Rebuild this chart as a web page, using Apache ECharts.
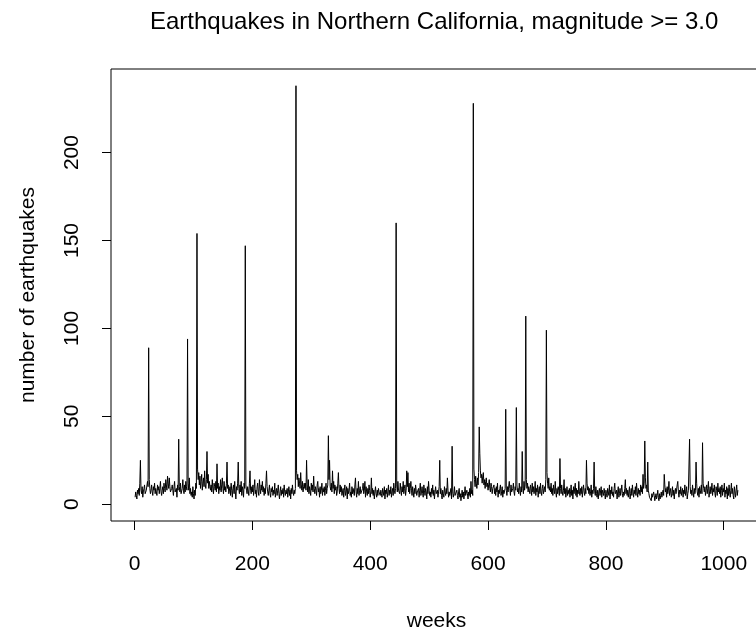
<!DOCTYPE html>
<html>
<head>
<meta charset="utf-8">
<script src="https://cdn.jsdelivr.net/npm/echarts@6/dist/echarts.min.js"></script>
<style>
  html, body { margin: 0; padding: 0; background: #fff; }
  #chart { width: 756px; height: 630px; }
</style>
</head>
<body>
<div id="chart"></div>
<script>
// weekly counts (weeks 1..1024)
var counts = [
  4,7,5,3,8,6,9,5,12,25,8,6,10,4,7,9,11,6,5,8,7,13,10,89,14,9,6,8,11,7,5,10,
  8,12,6,9,7,5,11,8,10,6,9,13,7,5,8,10,6,12,9,7,14,11,8,16,12,9,15,10,7,6,9,11,
  8,5,10,13,7,6,9,4,11,8,37,10,7,12,6,5,9,14,8,6,11,7,13,10,8,94,12,8,15,6,9,5,
  7,4,10,6,3,8,5,12,9,154,20,14,18,11,16,9,13,17,8,12,15,10,19,11,9,14,30,12,17,9,13,10,
  8,11,7,14,9,6,12,10,8,13,7,23,9,12,6,10,8,14,7,11,15,9,6,13,8,10,7,12,24,9,11,6,
  7,10,5,12,8,4,9,11,6,13,7,3,10,8,12,24,9,6,11,7,13,5,10,8,4,12,9,147,11,8,6,10,
  9,5,12,19,8,6,10,7,11,5,9,14,6,8,4,10,12,7,5,14,9,6,11,8,13,7,10,5,9,6,12,19,
  10,7,5,8,11,6,4,9,7,10,5,8,6,12,4,7,9,5,8,11,6,3,7,10,5,8,6,9,4,11,7,5,
  8,6,9,4,7,10,5,8,3,9,6,11,7,5,8,6,9,238,19,14,17,10,15,12,9,18,11,8,13,7,10,12,
  9,12,8,25,11,7,14,6,10,9,5,12,8,11,7,16,9,6,10,8,5,11,13,7,9,4,10,6,8,12,5,9,
  7,10,5,8,12,6,9,11,39,14,25,10,8,12,7,19,9,13,6,11,8,10,5,7,12,18,9,6,11,7,10,5,
  6,9,4,8,11,5,7,10,3,9,6,8,12,5,7,4,10,6,9,8,5,11,15,7,4,9,6,13,5,8,10,6,
  7,5,9,12,6,8,13,4,10,7,5,9,6,11,8,4,7,15,6,9,5,8,3,7,10,6,4,8,5,9,7,6,
  5,8,6,4,9,7,5,10,3,8,6,9,4,7,11,5,8,6,10,4,7,9,5,12,8,6,9,160,11,7,13,8,
  9,6,12,8,5,10,7,13,6,9,11,5,8,19,10,18,7,12,6,9,13,8,5,10,7,4,9,6,11,8,5,7,
  6,9,4,8,12,5,7,10,6,4,11,8,5,9,7,3,10,6,13,8,5,7,4,9,6,11,5,8,3,7,10,6,
  5,8,4,7,10,25,6,9,5,3,8,6,4,10,7,5,9,6,15,8,4,7,5,6,9,3,33,7,4,6,10,5,
  6,4,8,5,3,7,9,4,6,2,5,8,4,7,3,6,10,5,4,8,6,3,7,5,9,4,13,6,8,5,228,20,
  14,10,16,12,9,15,11,18,44,29,19,15,17,12,16,18,11,14,9,13,15,10,12,8,11,14,9,7,12,10,6,9,
  8,11,6,9,5,10,7,12,4,8,6,9,11,5,7,10,4,8,6,7,9,54,8,5,10,7,6,13,9,5,11,7,
  6,9,12,7,5,10,8,55,11,7,9,6,12,8,5,10,7,30,9,6,13,8,11,107,14,9,12,7,10,8,6,11,
  9,5,12,7,10,6,8,13,5,9,7,11,4,8,10,6,12,7,5,9,11,6,8,10,7,14,99,18,12,9,15,8,
  10,7,12,6,9,5,11,8,6,13,7,4,9,6,10,8,5,26,9,6,11,7,5,8,14,6,9,4,7,10,5,8,
  6,9,4,7,11,5,8,3,10,6,7,12,5,9,4,8,6,13,7,5,9,6,10,4,8,11,7,5,9,6,25,12,
  8,10,6,9,5,7,11,4,8,6,9,24,7,5,10,6,4,8,3,7,9,5,6,10,4,8,7,5,9,6,3,8,
  6,4,9,7,5,11,3,8,6,10,5,7,4,9,12,6,5,8,3,7,10,4,6,9,5,8,11,6,4,7,5,9,
  14,6,9,5,8,4,7,10,3,6,9,5,11,7,4,8,6,10,5,12,7,4,9,6,8,5,11,7,10,6,17,9,
  12,36,15,9,11,7,24,8,6,4,3,5,2,6,4,3,7,5,2,4,6,3,5,8,4,2,6,3,5,7,4,6,
  8,5,17,11,7,9,4,10,6,8,13,5,7,9,4,6,10,5,8,3,7,9,6,5,11,13,7,4,8,6,10,5,
  7,9,4,8,6,11,5,7,10,3,6,8,9,37,10,6,8,5,11,7,4,9,6,8,24,12,7,5,9,4,10,6,
  8,11,6,35,12,9,7,10,5,8,11,6,9,13,4,7,10,6,8,12,5,9,7,11,6,4,10,8,5,12,7,9,
  6,10,4,8,11,5,9,7,12,4,8,6,10,3,9,5,11,7,4,8,12,6,9,5,3,10,7,4,8,11,5,8
];
var xTicks = [0, 200, 400, 600, 800, 1000];
var yTicks = [0, 50, 100, 150, 200];

var points = counts.map(function (v, i) { return [i + 1, v]; });

var font = 'Liberation Sans, Arial, Helvetica, sans-serif';
var myChart = echarts.init(document.getElementById('chart'));
var option = {
    animation: false,
    backgroundColor: '#fff',
    title: {
        text: 'Earthquakes in Northern California, magnitude >= 3.0',
        left: 150,
        top: 10,
        padding: 0,
        textStyle: { fontFamily: font, fontSize: 24, fontWeight: 'normal', color: '#000' }
    },
    grid: {
        left: 111,
        top: 69,
        width: 651,
        height: 452,
        outerBoundsMode: 'none',
        containLabel: false,
        show: true,
        borderColor: '#000',
        borderWidth: 1,
        backgroundColor: 'transparent'
    },
    xAxis: {
        type: 'value',
        min: -39.92,
        max: 1064.92,
        name: 'weeks',
        nameLocation: 'middle',
        nameGap: 90,
        nameTextStyle: { fontFamily: font, fontSize: 21, color: '#000' },
        axisLine: { show: false, onZero: false },
        splitLine: { show: false },
        axisTick: {
            show: true,
            length: 9,
            customValues: xTicks,
            lineStyle: { color: '#000', width: 1 }
        },
        axisLabel: {
            customValues: xTicks,
            margin: 33,
            fontFamily: font,
            fontSize: 21,
            color: '#000',
            formatter: function (v) { return String(v); }
        }
    },
    yAxis: {
        type: 'value',
        min: -9.52,
        max: 247.52,
        name: 'number of earthquakes',
        nameLocation: 'middle',
        nameGap: 72,
        nameTextStyle: { fontFamily: font, fontSize: 21, color: '#000' },
        axisLine: { show: false, onZero: false },
        splitLine: { show: false },
        axisTick: {
            show: true,
            length: 9,
            customValues: yTicks,
            lineStyle: { color: '#000', width: 1 }
        },
        axisLabel: {
            customValues: yTicks,
            rotate: 90,
            margin: 28,
            fontFamily: font,
            fontSize: 21,
            color: '#000',
            formatter: function (v) { return String(v); }
        }
    },
    series: [
        {
            type: 'line',
            data: points,
            showSymbol: false,
            symbol: 'none',
            sampling: 'none',
            lineStyle: { color: '#000', width: 1 }
        }
    ]
};
myChart.setOption(option);
</script>
</body>
</html>
